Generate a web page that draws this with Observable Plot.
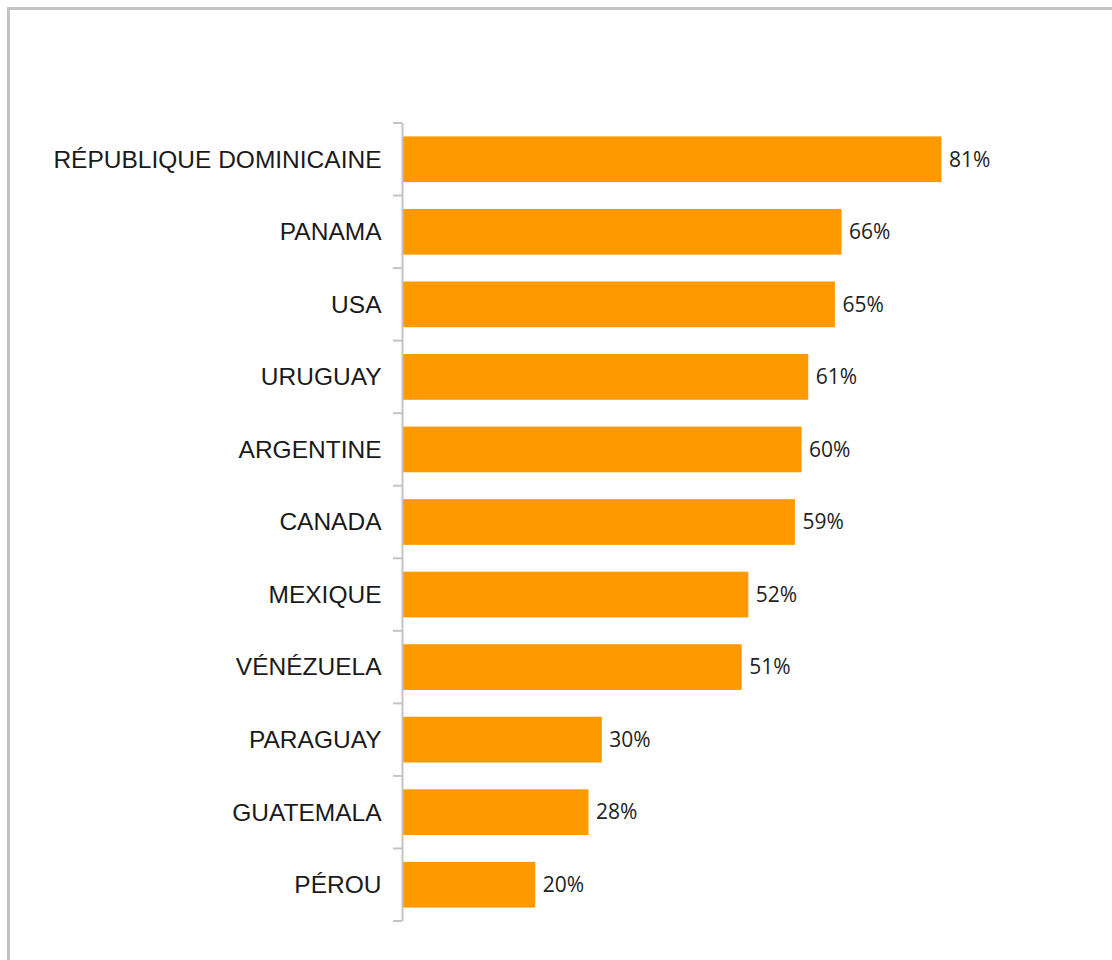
<!DOCTYPE html>
<html>
<head>
<meta charset="utf-8">
<script src="https://cdn.jsdelivr.net/npm/d3@7"></script>
<script src="https://cdn.jsdelivr.net/npm/@observablehq/plot@0.6"></script>
<style>
  html, body { margin: 0; padding: 0; background: #fff; overflow: hidden; }
  #wrap { position: relative; width: 1112px; height: 960px; }
  #frame { position: absolute; left: 7px; top: 7px; width: 1200px; height: 1100px;
           border: 3px solid #c4c4c4; box-sizing: border-box; pointer-events: none; }
  #chart { position: absolute; left: 0; top: 0; }
</style>
</head>
<body>
<div id="wrap"><div id="frame"></div><div id="chart"></div></div>
<script>
const countries = ["RÉPUBLIQUE DOMINICAINE", "PANAMA", "USA", "URUGUAY", "ARGENTINE", "CANADA", "MEXIQUE", "VÉNÉZUELA", "PARAGUAY", "GUATEMALA", "PÉROU"];
const values = [81, 66, 65, 61, 60, 59, 52, 51, 30, 28, 20];

const data = countries.map((c, i) => ({country: c, value: values[i] / 100}));

const chart = Plot.plot({
  width: 1112,
  height: 960,
  marginTop: 123,
  marginBottom: 39,
  marginLeft: 402,
  marginRight: 44,
  style: {fontFamily: "'Liberation Sans', Arial, sans-serif", background: "transparent"},
  x: {domain: [0, 1], axis: null},
  y: {domain: countries, paddingInner: 0.37, paddingOuter: 0.185, round: false, label: null},
  marks: [
    Plot.barX(data, {x: "value", y: "country", fill: "#FF9900", insetLeft: 1}),
    Plot.ruleX([0], {stroke: "#c4c4c4", strokeWidth: 2}),
    Plot.axisY({tickSize: 0, tickPadding: 21, fontSize: 24.5, fill: "#1a1a1a"}),
    Plot.text(data, {x: "value", y: "country", text: d => Math.round(d.value * 100) + "%",
      textAnchor: "start", dx: 7, fontSize: 21, fill: "#222",
      fontFamily: "'Open Sans', sans-serif"})
  ]
});

// boundary tick marks on the y axis, from the band scale
const ys = chart.scale("y");
const xs = chart.scale("x");
const x0 = xs.apply(0);
const yStart = ys.apply(countries[0]) - ys.step * 0.185;
const bounds = d3.range(countries.length + 1).map(i => yStart + i * ys.step);
d3.select(chart).append("g")
  .attr("stroke", "#c4c4c4").attr("stroke-width", 2)
  .selectAll("line").data(bounds).join("line")
  .attr("x1", x0 - 9).attr("x2", x0).attr("y1", d => d).attr("y2", d => d);

document.getElementById("chart").appendChild(chart);
</script>
</body>
</html>
